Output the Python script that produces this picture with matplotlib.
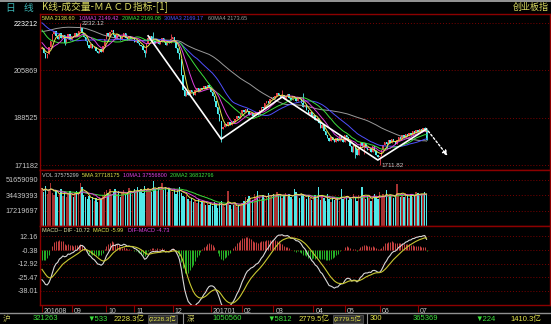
import numpy as np
import pandas as pd
import matplotlib
matplotlib.use('Agg')
import matplotlib.pyplot as plt
from matplotlib.lines import Line2D
import matplotlib.transforms as mtrans

plt.rcParams['font.family'] = ['Liberation Sans', 'DejaVu Sans', 'Noto Sans CJK SC']

W, H = 551, 324

# closes before the first visible bar (only used to warm up MA60 / MACD)
pre_closes = [2030, 2045, 2040, 2058, 2070, 2066, 2085, 2100, 2095, 2112,
              2125, 2120, 2138, 2152, 2146, 2164, 2180, 2175, 2192, 2208,
              2202, 2220, 2236, 2230, 2248, 2262, 2256, 2272, 2280, 2276,
              2288, 2284, 2290, 2282, 2292, 2286, 2280, 2288, 2284, 2290,
              2286, 2282, 2288, 2280, 2270, 2262, 2248, 2240, 2226, 2218,
              2205, 2196, 2185, 2178, 2166, 2160, 2150, 2146, 2142, 2138]

# daily closes, visible window (Aug 2016 .. Jul 2017)
c_aug = [2140, 2122, 2103, 2118, 2145, 2168, 2192, 2201, 2186, 2172, 2196, 2178, 2188, 2160, 2174, 2192, 2170]
c_sep = [2185, 2181, 2195, 2186, 2203, 2214, 2196, 2180, 2165, 2150, 2141, 2155, 2139, 2146, 2130, 2121, 2136, 2127, 2148, 2172]
c_oct = [2195, 2184, 2198, 2206, 2189, 2176, 2192, 2185, 2170, 2181, 2196, 2178, 2169, 2184, 2175, 2180]
c_nov = [2163, 2171, 2160, 2152, 2148, 2135, 2122, 2158, 2178, 2186, 2174, 2168, 2160, 2172, 2155, 2164, 2178, 2162, 2150, 2166, 2158, 2175]
c_dec = [2180, 2162, 2141, 2124, 2100, 2040, 1985, 1966, 1978, 1970, 1986, 1978, 1968, 1986, 1995, 1982, 1994, 1990, 2000, 1990, 2005, 1996]
c_jan = [1978, 1965, 1948, 1925, 1898, 1872, 1845, 1850, 1862, 1856, 1868, 1860, 1874, 1868, 1880, 1890, 1884, 1898]
c_feb = [1912, 1905, 1918, 1910, 1896, 1902, 1891, 1898, 1906, 1895, 1912, 1925, 1920, 1938, 1945, 1940, 1955, 1962]
c_mar = [1958, 1966, 1975, 1970, 1962, 1968, 1955, 1964, 1972, 1958, 1950, 1966, 1960, 1948, 1962, 1952, 1940, 1925, 1932, 1915, 1900, 1905, 1888]
c_apr = [1895, 1878, 1885, 1865, 1848, 1858, 1835, 1822, 1810, 1800, 1815, 1805, 1795, 1812, 1800, 1818, 1805, 1795]
c_may = [1822, 1815, 1798, 1782, 1760, 1785, 1772, 1750, 1778, 1795, 1780, 1792, 1775, 1765, 1772, 1758, 1780, 1762, 1750, 1740]
c_jun = [1745, 1768, 1785, 1795, 1788, 1802, 1794, 1806, 1798, 1790, 1804, 1815, 1808, 1820, 1812, 1826, 1818, 1830, 1822, 1836, 1828, 1840]
c_jul = [1834, 1842, 1836, 1848, 1845, 1802]

# volume in millions
v_aug = [42, 38, 45, 36, 40, 48, 37, 35, 39, 33, 36, 41, 34, 38, 32, 36, 39]
v_sep = [35, 33, 37, 39, 36, 48, 44, 35, 33, 30, 34, 29, 32, 28, 31, 27, 33, 30, 35, 38]
v_oct = [40, 37, 42, 35, 38, 41, 36, 39, 33, 37, 40, 35, 38, 43, 39, 36]
v_nov = [41, 38, 44, 39, 42, 37, 45, 40, 43, 40, 38, 51, 42, 39, 44, 41, 48, 40, 43, 38, 41, 39]
v_dec = [38, 41, 36, 40, 44, 37, 34, 32, 35, 30, 28, 31, 27, 29, 26, 30, 25, 27, 28, 24, 26, 23]
v_jan = [25, 22, 27, 24, 20, 26, 28, 23, 21, 25, 39, 24, 19, 23, 26, 21, 24, 22]
v_feb = [26, 28, 33, 30, 34, 31, 29, 36, 32, 39, 33, 30, 35, 31, 34, 37, 32, 35]
v_mar = [36, 33, 38, 35, 35, 31, 34, 37, 32, 36, 33, 30, 42, 38, 34, 31, 36, 36, 33, 30, 34, 31, 29]
v_apr = [32, 35, 30, 44, 29, 34, 31, 28, 36, 30, 27, 33, 29, 31, 31, 28, 42, 30]
v_may = [31, 34, 29, 33, 30, 36, 32, 28, 35, 31, 44, 33, 30, 34, 31, 28, 33, 36, 32, 30]
v_jun = [38, 31, 36, 33, 40, 32, 35, 34, 31, 33, 47, 36, 33, 35, 32, 37, 34, 31, 36, 33, 35, 38]
v_jul = [37, 34, 36, 35, 38, 36]

month_labels = ['201608', '09', '10', '11', '12', '201701', '02', '03', '04', '05', '06', '07']

# notable wick extremes (bar index -> price)
wick_hi = {22: 2232.12, 64: 2200, 74: 2190, 138: 1985, 150: 1975, 220: 1852}
wick_lo = {13: 2150, 59: 2108, 103: 1796, 180: 1738, 185: 1752, 194: 1711.82, 198: 1775}

# hand drawn trend lines (bar index, price)
trend_idx = [61, 103, 138, 193, 221]
trend_px = [2185, 1807, 1961, 1730, 1844]
arrow_to = (234, 1738)

price_ticks = [2232.12, 2058.69, 1885.25, 1711.82]
price_lbls = ['223212', '205869', '188525', '171182']
vol_ticks = [51.659090, 34.439393, 17.219697]
vol_lbls = ['51659090', '34439393', '17219697']
macd_ticks = [12.16, -0.38, -12.92, -25.47, -38.01]

closes = np.array(c_aug + c_sep + c_oct + c_nov + c_dec + c_jan + c_feb + c_mar + c_apr + c_may + c_jun + c_jul, float)
vols = np.array(v_aug + v_sep + v_oct + v_nov + v_dec + v_jan + v_feb + v_mar + v_apr + v_may + v_jun + v_jul, float)
mlen = [len(m) for m in [c_aug, c_sep, c_oct, c_nov, c_dec, c_jan, c_feb, c_mar, c_apr, c_may, c_jun, c_jul]]
mstart = np.r_[0, np.cumsum(mlen)[:-1]]
n = len(closes)
x = np.arange(n)

opens = np.r_[pre_closes[-1], closes[:-1]]
highs = np.maximum(opens, closes)
lows = np.minimum(opens, closes)
for k, v in wick_hi.items():
    highs[k] = v
for k, v in wick_lo.items():
    lows[k] = v
up = closes >= opens

allc = pd.Series(list(pre_closes) + list(closes))
npre = len(pre_closes)
ma = {p: allc.rolling(p).mean().values[npre:] for p in (5, 10, 20, 30, 60)}
ema12 = allc.ewm(span=12, adjust=False).mean()
ema26 = allc.ewm(span=26, adjust=False).mean()
dif = (ema12 - ema26)
dea = dif.ewm(span=9, adjust=False).mean()
dif, dea = dif.values[npre:], dea.values[npre:]
hist = dif - dea          # shown as "DIF-MACD"
vs = pd.Series(vols)
vma = {p: vs.rolling(p, min_periods=1).mean().values for p in (5, 10, 20)}

# colours
RED, CYAN = '#e8404c', '#4cf0f0'
FRAME, GRID, LBL = '#8c0000', '#7a0000', '#c8c8c8'
MACOL = {5: '#e6e64c', 10: '#e040e0', 20: '#3ce03c', 30: '#5050ff', 60: '#9a9a9a'}

fig = plt.figure(figsize=(W / 100, H / 100), dpi=100, facecolor='black')

def box(top, bot):
    return [40 / W, 1 - bot / H, 510 / W, (bot - top) / H]

# x pixel = 42 + 1.74 * i  ->  axis spans pixels 40..550
xl = ((40 - 42) / 1.74, (550 - 42) / 1.74)

ax_p = fig.add_axes(box(14, 170))
ax_v = fig.add_axes(box(170, 226))
ax_m = fig.add_axes(box(226, 305))

for ax in (ax_p, ax_v, ax_m):
    ax.set_facecolor('black')
    ax.set_xlim(*xl)
    for s in ax.spines.values():
        s.set_color(FRAME)
        s.set_linewidth(1.0)
    ax.tick_params(axis='y', length=0, pad=1.5, colors=LBL, labelsize=5.2)
    ax.tick_params(axis='x', length=0, labelbottom=False)

# price panel
ax_p.set_ylim(1693.5, 2265.1)
ax_p.set_yticks(price_ticks)
ax_p.set_yticklabels(price_lbls)
ax_p.get_yticklabels()[0].set_color('white')
for t in price_ticks:
    ax_p.axhline(t, color=GRID, lw=0.7, ls=(0, (1, 2)), zorder=0)
ax_p.vlines(x, lows, highs, colors=np.where(up, RED, CYAN), lw=0.6, zorder=2)
body = np.maximum(np.abs(closes - opens), 2.0)
ax_p.bar(x, body, bottom=np.minimum(opens, closes), width=0.8,
         color=np.where(up, RED, CYAN), linewidth=0, zorder=3)
for p in (60, 30, 20, 10, 5):
    ax_p.plot(x, ma[p], color=MACOL[p], lw=0.7, zorder=4)
ax_p.plot(trend_idx, trend_px, color='white', lw=1.2, zorder=5)
ax_p.annotate('', xy=arrow_to, xytext=(trend_idx[-1], trend_px[-1]),
              arrowprops=dict(arrowstyle='-|>', color='white', lw=1.0,
                              ls=(0, (1.5, 1.5)), mutation_scale=7), zorder=5)
hi_i = int(np.argmax(highs))
lo_i = int(np.argmin(lows))
ax_p.text(hi_i + 1, highs[hi_i], '2232.12', color=LBL, fontsize=4.5, va='center', ha='left')
ax_p.text(lo_i + 1, lows[lo_i], '1711.82', color=LBL, fontsize=4.5, va='center', ha='left')

LEG = 4.0
leg_p = [(42, '5MA 2138.60', MACOL[5]), (79, '10MA1 2149.42', MACOL[10]),
         (122, '20MA2 2169.08', MACOL[20]), (164, '30MA3 2169.17', MACOL[30]),
         (208, '60MA4 2173.65', MACOL[60])]
for px, s, c in leg_p:
    fig.text(px / W, 1 - 18.5 / H, s, color=c, fontsize=LEG, va='center')

# volume panel
ax_v.set_ylim(0, 62.8)
ax_v.set_yticks(vol_ticks)
ax_v.set_yticklabels(vol_lbls)
for t in vol_ticks:
    ax_v.axhline(t, color=GRID, lw=0.7, ls=(0, (1, 2)), zorder=0)
ax_v.bar(x, vols, width=0.8, color=np.where(up, '#a83232', '#50e8e8'), linewidth=0, zorder=2)
for p in (20, 10, 5):
    ax_v.plot(x, vma[p], color=MACOL[p], lw=0.7, zorder=3)
leg_v = [(42, 'VOL 37575299', LBL), (82, '5MA 37718175', MACOL[5]),
         (123, '10MA1 37556800', MACOL[10]), (170, '20MA2 36832796', MACOL[20])]
for px, s, c in leg_v:
    fig.text(px / W, 1 - 175.5 / H, s, color=c, fontsize=LEG, va='center')

# MACD panel
ax_m.set_ylim(-50.9, 21.8)
ax_m.set_yticks(macd_ticks)
ax_m.set_yticklabels(['%.2f' % t for t in macd_ticks])
for t in macd_ticks:
    ax_m.axhline(t, color=GRID, lw=0.7, ls=(0, (1, 2)), zorder=0)
ax_m.vlines(x, 0, hist, colors=np.where(hist >= 0, '#c84040', '#28b428'), lw=0.7, zorder=2)
ax_m.plot(x, dif, color='#d8d8d8', lw=0.8, zorder=3)
ax_m.plot(x, dea, color='#c8c832', lw=0.8, zorder=3)
leg_m = [(42, 'MACD-- DIF -10.72', '#e0e0a0'), (93, 'MACD -5.99', '#e6e64c'),
         (128, 'DIF-MACD -4.73', '#e040e0')]
for px, s, c in leg_m:
    fig.text(px / W, 1 - 231 / H, s, color=c, fontsize=LEG, va='center')

ax_m.set_xticks(mstart)
ax_m.set_xticklabels(month_labels)
ax_m.tick_params(axis='x', length=5, width=0.8, color=FRAME, direction='out',
                 labelbottom=True, labelsize=5, labelcolor=LBL, pad=-3)
off = mtrans.ScaledTranslation(2 / 100, 0, fig.dpi_scale_trans)
for lab in ax_m.get_xticklabels():
    lab.set_ha('left')
    lab.set_transform(lab.get_transform() + off)

# title bar
fig.add_artist(Line2D([0, 1], [1 - 0.5 / H, 1 - 0.5 / H], color='#b0b0b0', lw=1.2))
cjk = ['Noto Sans CJK SC', 'DejaVu Sans']
fig.text(5 / W, 1 - 7.5 / H, '日', color='#3cb4b4', fontsize=7, va='center', family=cjk)
fig.text(24 / W, 1 - 7.5 / H, '线', color='#3cb4b4', fontsize=7, va='center', family=cjk)
fig.text(42 / W, 1 - 7.5 / H, 'K线-成交量-ＭＡＣＤ指标-[1]', color='#d8d860', fontsize=7,
         va='center', family=cjk)
fig.text(549 / W, 1 - 7.5 / H, '创业板指', color='#d8d860', fontsize=6.5, va='center',
         ha='right', family=cjk)

# status bar
fig.add_artist(Line2D([0, 1], [1 - 313 / H, 1 - 313 / H], color='#909090', lw=1.0))
GRN, YEL = '#3ce03c', '#e6e64c'
status = [(3, '沪', '#c8c860'), (33, '321263', GRN), (87, '▼533', GRN),
          (114, '2228.3亿', YEL), (187, '深', '#c8c860'), (212, '1050560', GRN),
          (267, '▼5812', GRN), (299, '2779.5亿', YEL), (370, '300', YEL),
          (413, '365369', GRN), (475, '▼224', GRN), (510, '1410.3亿', YEL)]
for px, s, c in status:
    fig.text(px / W, 1 - 319 / H, s, color=c, fontsize=5.5, va='center',
             family=cjk if s in ('沪', '深') else None)
for px, s in [(149, '(2228.3亿'), (334, '(2779.5亿')]:
    fig.text(px / W, 1 - 319 / H, s, color=YEL, fontsize=4.6, va='center',
             bbox=dict(boxstyle='square,pad=0.1', fc='#303030', ec='#606060', lw=0.5))
fig.add_artist(Line2D([183 / W, 183 / W], [0, 1 - 314 / H], color='#909090', lw=0.8))
fig.add_artist(Line2D([367 / W, 367 / W], [0, 1 - 314 / H], color='#909090', lw=0.8))

fig.savefig('out.png', dpi=100, facecolor='black')
